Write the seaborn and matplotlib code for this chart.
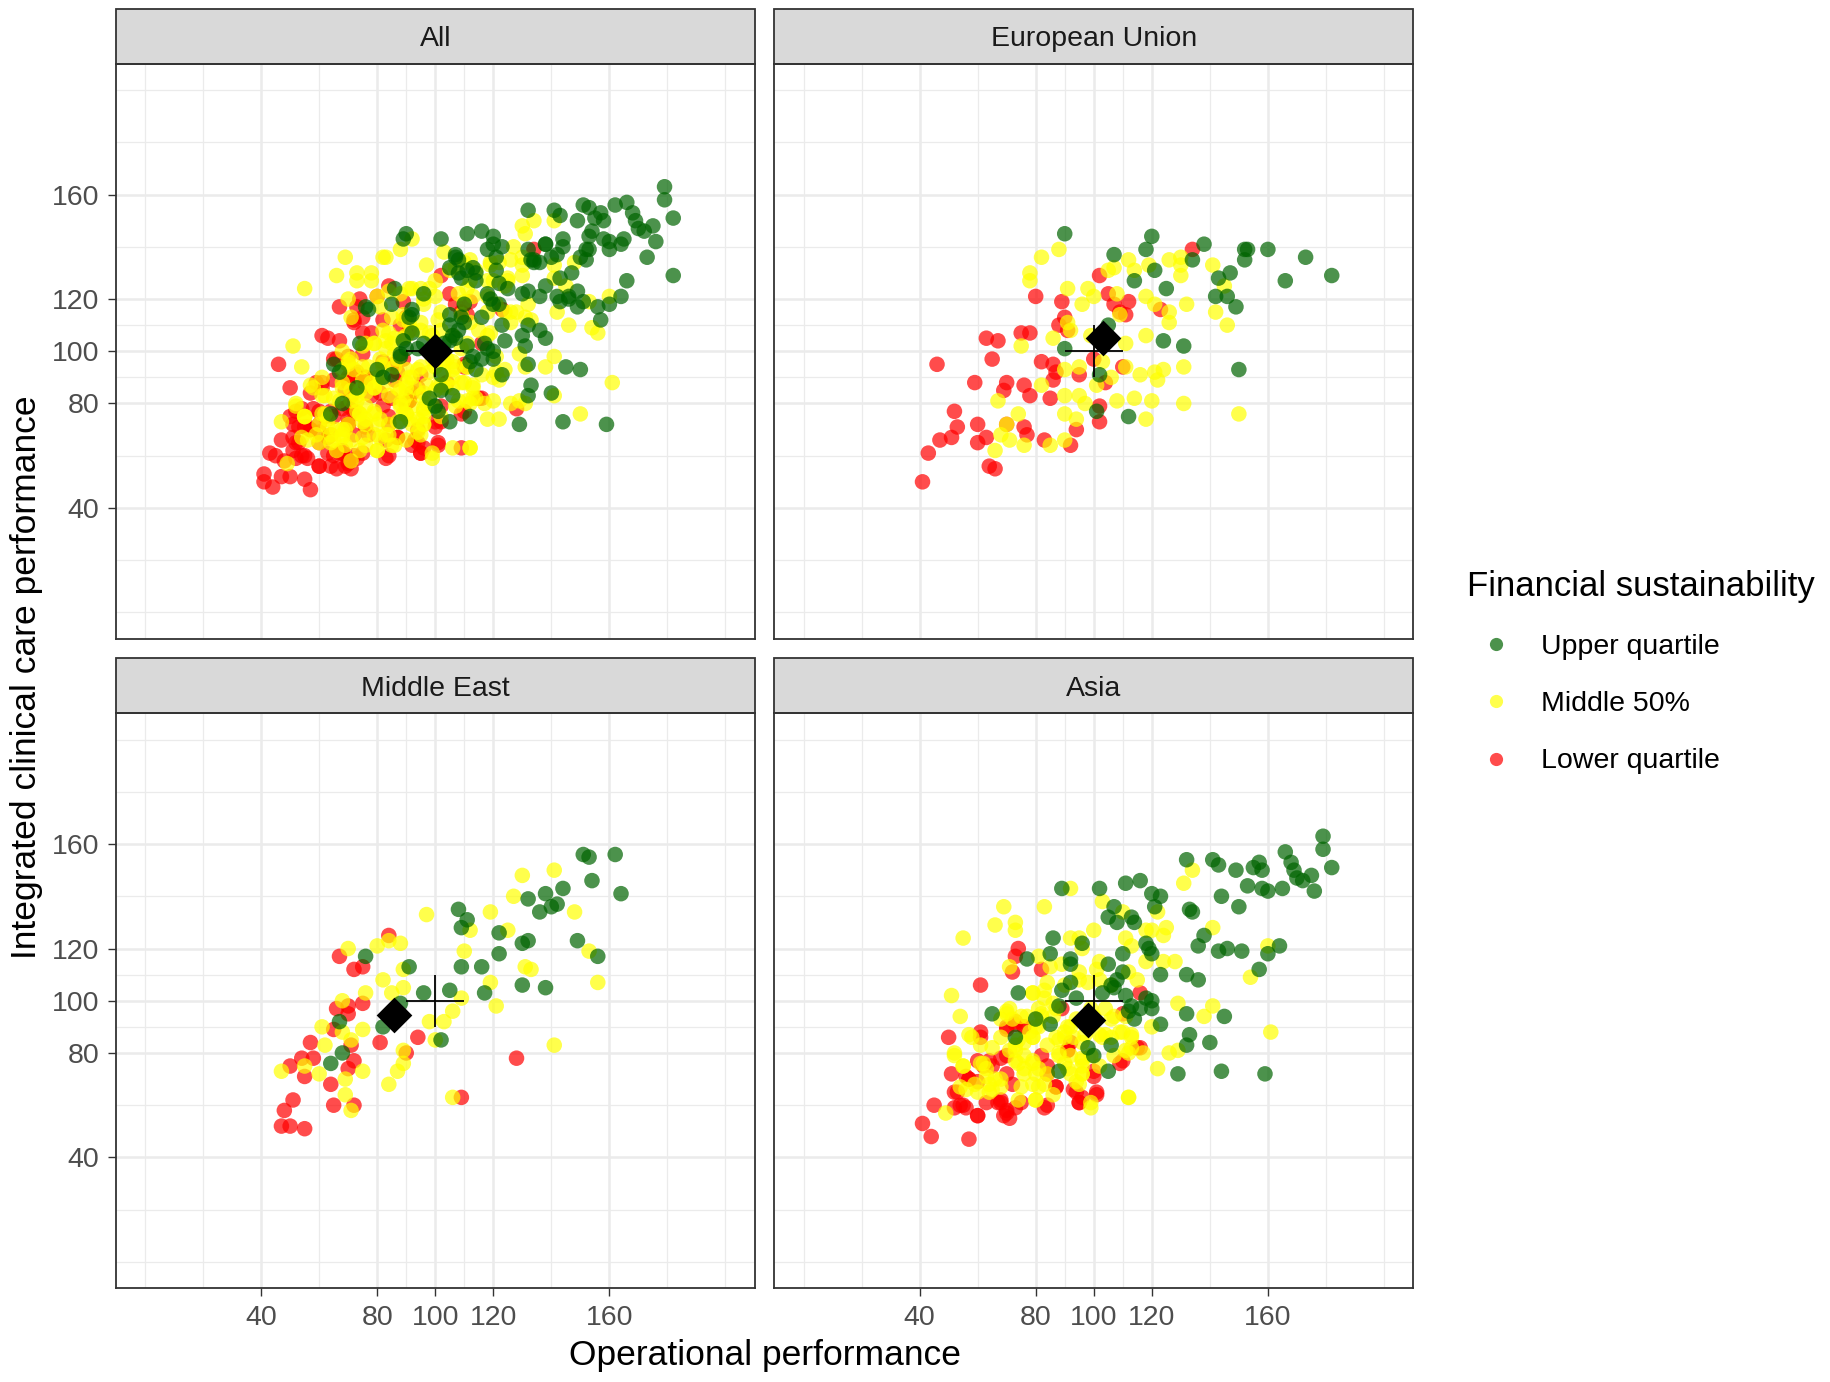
import pandas as pd
import seaborn as sns
import matplotlib.pyplot as plt
from matplotlib.lines import Line2D
from matplotlib.patches import Rectangle

# points: (operational, clinical) per region and group
eu_upper = [(90,145),(120,144),(138,141),(152,139),(153,139),(160,139),(173,136),(152,135),(118,139),
            (107,137),(134,135),(121,131),(114,127),(166,127),(182,129),(147,130),(143,128),(125,124),
            (142,121),(146,121),(149,117),(105,110),(124,104),(131,102),(90,101),(150,93),(102,91),
            (101,77),(112,75)]
eu_middle = [(88,139),(82,136),(78,130),(78,127),(91,124),(98,124),(100,121),(96,118),(108,122),(105,131),
             (107,132),(112,135),(114,131),(119,133),(126,135),(130,136),(130,133),(130,129),(141,133),
             (145,125),(118,121),(121,118),(126,115),(126,111),(132,118),(142,115),(146,110),(91,111),
             (92,108),(99,106),(86,105),(75,102),(109,114),(111,103),(118,106),(90,93),(95,94),(103,96),
             (111,94),(116,91),(121,92),(124,93),(122,89),(131,94),(106,90),(82,87),(101,87),(95,83),
             (90,83),(97,80),(108,81),(114,82),(120,81),(131,80),(67,81),(74,76),(90,76),(94,74),(118,74),
             (70,72),(68,68),(71,66),(76,64),(85,64),(90,66),(66,62),(150,76)]
eu_lower = [(134,139),(102,129),(80,121),(89,119),(105,122),(107,118),(112,119),(111,114),(123,116),
            (88,110),(90,113),(91,108),(63,105),(67,104),(75,107),(78,107),(65,97),(46,95),(82,96),(86,95),
            (87,92),(95,91),(100,97),(110,94),(59,88),(70,88),(69,85),(76,87),(78,83),(86,89),(85,82),
            (104,88),(102,79),(102,73),(52,77),(53,71),(51,67),(47,66),(60,72),(60,65),(63,67),(70,72),
            (76,71),(77,68),(83,66),(94,70),(92,64),(43,61),(64,56),(66,55),(41,50),(109,115)]

me_upper = [(151,156),(153,155),(162,156),(154,146),(164,141),(144,143),(138,141),(132,139),(136,134),
            (140,136),(142,137),(108,135),(111,131),(109,128),(122,126),(130,122),(132,123),(149,123),
            (156,117),(122,118),(109,113),(116,113),(130,106),(138,105),(117,103),(105,104),(96,103),
            (91,113),(76,117),(88,99),(82,90),(102,85),(67,92),(68,80),(64,76)]
me_middle = [(130,148),(141,150),(127,140),(119,134),(148,134),(97,133),(112,127),(125,127),(110,119),
             (153,119),(131,113),(133,112),(156,107),(119,107),(121,98),(109,101),(106,96),(103,92),(98,92),
             (100,85),(141,83),(70,120),(80,121),(88,122),(84,123),(89,112),(82,108),(89,105),(85,103),
             (76,103),(68,100),(75,89),(61,90),(62,83),(68,88),(71,85),(55,75),(47,73),(60,72),(69,70),
             (69,64),(71,58),(75,73),(84,68),(87,73),(89,76),(89,81),(106,63)]
me_lower = [(84,125),(67,117),(72,112),(75,113),(75,99),(66,97),(70,95),(70,98),(65,89),(71,83),(81,84),
            (94,86),(90,80),(57,84),(54,78),(58,78),(55,71),(50,75),(72,77),(70,74),(64,68),(65,60),(72,60),
            (51,62),(48,58),(47,52),(50,52),(55,51),(128,78),(109,63)]

asia_upper = [(179,163),(179,158),(182,151),(166,157),(168,153),(169,150),(170,147),(172,146),(175,148),
              (176,142),(165,143),(160,142),(158,143),(153,144),(155,151),(157,153),(158,150),(149,150),
              (141,154),(143,152),(132,154),(144,140),(150,136),(133,135),(134,134),(111,145),(116,146),
              (120,141),(123,140),(121,136),(102,143),(89,143),(107,136),(105,132),(108,130),(113,132),
              (114,130),(138,125),(136,121),(143,119),(146,120),(151,119),(164,121),(160,118),(157,112),
              (118,122),(119,120),(120,118),(110,118),(123,110),(132,110),(136,108),(96,122),(86,124),
              (85,118),(77,116),(92,116),(92,114),(105,114),(110,111),(108,108),(92,107),(106,106),(89,104),
              (103,103),(74,103),(107,105),(111,102),(118,101),(120,100),(113,98),(112,96),(116,97),(114,93),
              (120,97),(88,98),(94,101),(65,95),(80,93),(85,91),(73,86),(123,91),(132,95),(145,94),(133,87),
              (132,83),(140,84),(98,82),(100,79),(106,83),(105,73),(88,73),(129,72),(144,73),(159,72)]
asia_middle = [(131,145),(134,150),(92,143),(103,138),(69,136),(83,136),(66,129),(73,130),(73,127),(55,124),
               (100,127),(110,134),(122,134),(118,127),(120,127),(124,125),(125,128),(141,128),(111,124),
               (113,121),(92,124),(95,124),(96,120),(81,117),(71,113),(85,113),(89,114),(102,115),(101,112),
               (112,111),(118,115),(124,115),(128,115),(115,108),(160,121),(154,109),(51,102),(79,103),
               (84,107),(95,111),(98,107),(54,94),(57,87),(52,80),(55,75),(61,76),(64,65),(49,57),(74,62),
               (80,62),(99,61),(112,63),(122,74),(126,80),(129,81),(129,99),(138,94),(141,98),(161,88),
               (120,90),(113,87),(117,80),(109,88),(102,87),(96,75),(96,72),(79,77),(80,72),(71,81),(73,77),
               (79,86),(81,90),(77,94),(68,93),(70,96),(68,86),(84,83),(88,85),(91,90),(93,86),(107,79),
               (111,81),(113,82),(104,87),(83,101),(64,68),(68,70),(83,68),(60,65),(54,67),(87,97),(97,87),
               (96,78),(73,83),(91,74),(102,75),(76,74),(84,72),(88,80),(92,79),(99,97),(104,97),(100,94),
               (106,93),(86,94),(90,86),(82,95),(78,88),(94,69),(86,64),(65,82),(63,74),
               (52,79),(55,75),(58,86),(61,83),(62,76),(59,68),(56,66),(63,71),(66,70),(65,66),(68,67),
               (70,95),(72,93),(75,94),(74,85),(76,84),(79,86),(80,90),(82,94),(81,97),(86,99),(83,104),
               (79,103),(73,81),(76,79),(79,76),(81,74),(76,72),(79,68),(81,67),(80,62),(75,67),(74,76),
               (87,86),(88,79),(90,76),(92,72),(95,68),(96,77),(96,72),(99,79),(90,88),(92,90),(94,93),
               (96,84),(103,86),(106,86),(110,88),(113,86),(112,80),(112,63),(99,59),(90,106),(95,108),
               (102,108),(106,106),(111,94),(107,94),(71,97)]
asia_lower = [(74,120),(73,117),(72,111),(82,112),(61,106),(116,103),(50,86),(61,88),(61,86),(70,90),(73,91),
              (76,90),(51,72),(60,77),(64,77),(57,70),(60,69),(52,65),(45,60),(52,59),(55,60),(60,56),(63,61),
              (67,61),(68,62),(70,58),(69,56),(73,59),(41,53),(44,48),(57,47),(84,60),(87,67),(93,66),(96,63),
              (95,61),(101,65),(91,81),(84,75),(100,73),(109,76),(116,82),(110,95),(68,78),(70,72),(56,71),
              (70,89),(73,92),(76,90),(53,65),(57,70),(62,75),(65,75),(70,79),(72,68),(54,60),(56,59),
              (60,56),(70,57),(71,55),(68,61),(75,61),(83,59),(87,67),(84,72),(82,79),(91,81),(92,84),
              (94,65),(95,61),(101,64),(100,71),(89,97),(110,77),(115,82)]

# black diamond (group centre) per panel
panels = ['All', 'European Union', 'Middle East', 'Asia']
centre_x = [100, 103.2, 85.8, 98.1]
centre_y = [100, 105.1, 94.6, 92.7]

ref_x, ref_y, ref_arm = 100, 100, 10   # reference cross

groups = ['Upper quartile', 'Middle 50%', 'Lower quartile']
colors = {'Upper quartile': '#006400', 'Middle 50%': '#FFFF00', 'Lower quartile': '#FF0000'}

x_major = [40, 80, 100, 120, 160]
x_minor = [0, 20, 60, 90, 110, 140, 180, 200]

rows = []
regions = {'European Union': (eu_upper, eu_middle, eu_lower),
           'Middle East': (me_upper, me_middle, me_lower),
           'Asia': (asia_upper, asia_middle, asia_lower)}
for reg, sets in regions.items():
    for g, pts in zip(groups, sets):
        for x, y in pts:
            rows.append((reg, g, x, y))
df = pd.DataFrame(rows, columns=['region', 'group', 'op', 'clin'])
df = pd.concat([df.assign(region='All'), df], ignore_index=True)
# draw red first, green on top
df['order'] = df['group'].map({'Lower quartile': 0, 'Middle 50%': 1, 'Upper quartile': 2})
df = df.sort_values('order', kind='stable')

plt.rcParams['font.family'] = ['Liberation Sans', 'DejaVu Sans']

fig, axes = plt.subplots(2, 2, figsize=(18.31, 13.82), dpi=100, sharex=True, sharey=True)
fig.subplots_adjust(left=116/1831, right=1413/1831, top=1-64/1382, bottom=1-1288/1382,
                    wspace=0.0313, hspace=0.1305)

for i, (ax, name) in enumerate(zip(axes.flat, panels)):
    sub = df[df['region'] == name]
    sns.scatterplot(data=sub, x='op', y='clin', hue='group', hue_order=groups, palette=colors,
                    s=125, alpha=0.7, linewidth=0, legend=False, ax=ax, zorder=3)
    ax.hlines(ref_y, ref_x - ref_arm, ref_x + ref_arm, color='black', lw=1.3, zorder=4)
    ax.vlines(ref_x, ref_y - ref_arm, ref_y + ref_arm, color='black', lw=1.3, zorder=4)
    sns.scatterplot(x=[centre_x[i]], y=[centre_y[i]], marker='D', s=330, color='black',
                    linewidth=0, ax=ax, zorder=5)

    ax.set_xlim(-10, 210)
    ax.set_ylim(-10, 210)
    ax.set_xticks(x_major)
    ax.set_yticks(x_major)
    ax.set_xticks(x_minor, minor=True)
    ax.set_yticks(x_minor, minor=True)
    ax.grid(which='major', color='#EBEBEB', lw=1.8, zorder=0)
    ax.grid(which='minor', color='#EBEBEB', lw=0.9, zorder=0)
    ax.set_axisbelow(True)
    ax.tick_params(which='major', length=6, width=1, color='#333333', labelsize=20.5,
                   labelcolor='#4D4D4D', pad=6)
    ax.tick_params(which='minor', length=0)
    # inner panels carry no axis ticks
    if i < 2:
        ax.tick_params(axis='x', which='major', length=0)
    if i % 2 == 1:
        ax.tick_params(axis='y', which='major', length=0)
    for sp in ax.spines.values():
        sp.set_color('#333333')
        sp.set_linewidth(1.3)
    ax.set_xlabel('')
    ax.set_ylabel('')

    # facet strip
    h = 55 / 574
    ax.add_patch(Rectangle((0, 1), 1, h, transform=ax.transAxes, clip_on=False,
                           facecolor='#D9D9D9', edgecolor='#333333', lw=1.3))
    ax.text(0.5, 1 + h / 2, name, transform=ax.transAxes, ha='center', va='center_baseline',
            fontsize=20.5, color='#1A1A1A')

fig.text(765/1831, 1 - 1355/1382, 'Operational performance', ha='center', va='center', fontsize=25.5)
fig.text(27/1831, 1 - 677/1382, 'Integrated clinical care performance', ha='center', va='center',
         rotation=90, fontsize=25.5)

handles = [Line2D([], [], marker='o', linestyle='', markersize=9.5, markeredgewidth=0,
                  color=colors[g], alpha=0.7) for g in groups]
leg = fig.legend(handles, groups, title='Financial sustainability', loc='center left',
                 bbox_to_anchor=(1453/1831, 1 - 672/1382), frameon=False, fontsize=20.5,
                 title_fontsize=25, alignment='left', labelspacing=1.1, handletextpad=0.6,
                 borderpad=0, handlelength=2)

fig.savefig('out.png', dpi=100)
